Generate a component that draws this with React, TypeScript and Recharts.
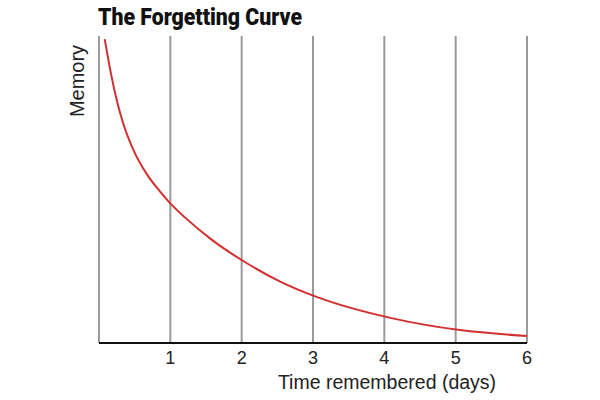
import React from "react";
import { LineChart, Line, XAxis, YAxis, CartesianGrid } from "recharts";

// time in days, memory retained (relative, 0-100)
const days = [0.08, 0.17, 0.25, 0.34, 0.48, 0.67, 0.85, 1, 1.2, 1.56, 2.05, 2.54, 3.04, 4.1, 5.06, 6];
const memory = [99, 87.5, 79, 71.5, 63, 55, 49.5, 45.5, 41, 34, 26.3, 20, 15.1, 8.1, 4.2, 2.3];
const dayTicks = [1, 2, 3, 4, 5, 6];

const data = days.map((d, i) => ({ day: d, memory: memory[i] }));

export default function App() {
  return (
    <div style={{ position: "absolute", left: 0, top: 0, width: 600, height: 400, background: "#fff" }}>
      <LineChart width={600} height={400} data={data} margin={{ top: 36, right: 73, left: 99, bottom: 27 }}>
        <CartesianGrid horizontal={false} stroke="#9a9a9a" strokeWidth={2} />
        <XAxis
          dataKey="day"
          type="number"
          domain={[0, 6]}
          ticks={dayTicks}
          height={30}
          tickLine={false}
          axisLine={{ stroke: "#111", strokeWidth: 2 }}
          tick={{ fill: "#222", fontSize: 18, fontFamily: "Liberation Sans, Arial, sans-serif" }}
        />
        <YAxis
          type="number"
          domain={[0, 100]}
          width={0}
          tick={false}
          tickLine={false}
          axisLine={{ stroke: "#111", strokeWidth: 2 }}
        />
        <Line
          type="monotone"
          dataKey="memory"
          stroke="#d0302f"
          strokeWidth={2}
          dot={false}
          isAnimationActive={false}
        />
      </LineChart>
      <svg width={600} height={400} style={{ position: "absolute", left: 0, top: 0, pointerEvents: "none" }}>
        <text
          x={98}
          y={25}
          fontFamily="Roboto, sans-serif"
          fontWeight={900}
          fontSize={24}
          fill="#111"
          textLength={204}
          lengthAdjust="spacingAndGlyphs"
        >
          The Forgetting Curve
        </text>
        <text
          transform="translate(84,81) rotate(-90)"
          textAnchor="middle"
          fontFamily="Liberation Sans, Arial, sans-serif"
          fontSize={20}
          fill="#222"
        >
          Memory
        </text>
        <text
          x={387}
          y={389}
          textAnchor="middle"
          fontFamily="Liberation Sans, Arial, sans-serif"
          fontSize={19.5}
          fill="#222"
        >
          Time remembered (days)
        </text>
      </svg>
    </div>
  );
}
